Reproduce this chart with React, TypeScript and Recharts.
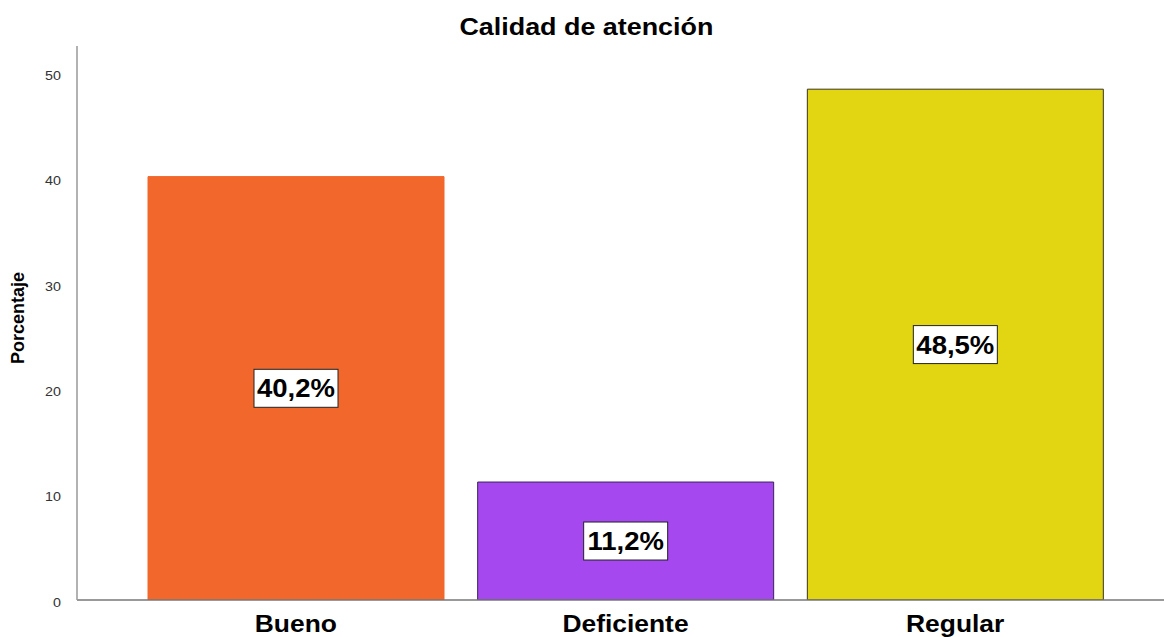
import React from "react";
import { BarChart, Bar, XAxis, YAxis, Cell, LabelList } from "recharts";

const categories = ["Bueno", "Deficiente", "Regular"];
const percentages = [40.2, 11.2, 48.5];
const valueLabels = ["40,2%", "11,2%", "48,5%"];
const yTicks = [0, 10, 20, 30, 40, 50];
const fills = ["#F2672B", "#A648F0", "#E1D611"];
const strokes = ["#F2672B", "#3A2456", "#3A3420"];

const data = categories.map((c, i) => ({ name: c, value: percentages[i], label: valueLabels[i] }));

const FONT = "'Liberation Sans', Arial, sans-serif";

const XTick = (props: any) => {
  const { x, payload } = props;
  return (
    <text
      x={0}
      y={0}
      transform={`translate(${x},632) scale(1.1,1)`}
      textAnchor="middle"
      fontFamily={FONT}
      fontWeight="bold"
      fontSize={24}
      fill="#000"
    >
      {payload.value}
    </text>
  );
};

const YTick = (props: any) => {
  const { x, y, payload } = props;
  return (
    <text
      x={0}
      y={0}
      transform={`translate(${x - 8},${y + 6.5}) scale(1.1,1)`}
      textAnchor="end"
      fontFamily={FONT}
      fontSize={13}
      fill="#333"
    >
      {payload.value}
    </text>
  );
};

const ValueBox = (props: any) => {
  const { x, y, width, height, index } = props;
  const cx = x + width / 2;
  const cy = y + height / 2;
  const bw = 84;
  const bh = 38;
  return (
    <g>
      <rect x={cx - bw / 2} y={cy - bh / 2} width={bw} height={bh} fill="#fff" stroke="#222" strokeWidth={1} />
      <text
        x={0}
        y={0}
        transform={`translate(${cx},${cy + 9}) scale(1.1,1)`}
        textAnchor="middle"
        fontFamily={FONT}
        fontWeight="bold"
        fontSize={25}
        fill="#000"
      >
        {data[index].label}
      </text>
    </g>
  );
};

const YLabel = () => (
  <text
    x={0}
    y={0}
    transform="translate(24,318) rotate(-90)"
    textAnchor="middle"
    fontFamily={FONT}
    fontWeight="bold"
    fontSize={18}
    fill="#000"
  >
    Porcentaje
  </text>
);

export default function App() {
  return (
    <div style={{ position: "absolute", left: 0, top: 0, width: 1164, height: 637, background: "#fff" }}>
      <div
        style={{
          position: "absolute",
          left: 5,
          top: 12,
          width: 1164,
          textAlign: "center",
          fontFamily: FONT,
          fontWeight: "bold",
          fontSize: 24,
          lineHeight: "30px",
          color: "#000",
          transform: "scaleX(1.12)",
          transformOrigin: "587px 0",
          zIndex: 2,
        }}
      >
        Calidad de atención
      </div>
      <BarChart
        width={1164}
        height={637}
        data={data}
        margin={{ top: 46, right: 0, bottom: 0, left: 0 }}
        barSize={296}
      >
        <XAxis
          dataKey="name"
          height={37}
          tick={<XTick />}
          tickLine={false}
          axisLine={{ stroke: "#777", strokeWidth: 1.5 }}
          padding={{ left: 54, right: 44 }}
          interval={0}
        />
        <YAxis
          width={77}
          domain={[0, 52.6]}
          ticks={yTicks}
          tick={<YTick />}
          tickLine={false}
          axisLine={{ stroke: "#999", strokeWidth: 1.5 }}
          allowDataOverflow
          label={{ content: () => <YLabel /> }}
        />
        <Bar dataKey="value" isAnimationActive={false}>
          {data.map((d, i) => (
            <Cell key={d.name} fill={fills[i]} stroke={strokes[i]} strokeWidth={1} />
          ))}
          <LabelList dataKey="value" content={<ValueBox />} />
        </Bar>
      </BarChart>
    </div>
  );
}
